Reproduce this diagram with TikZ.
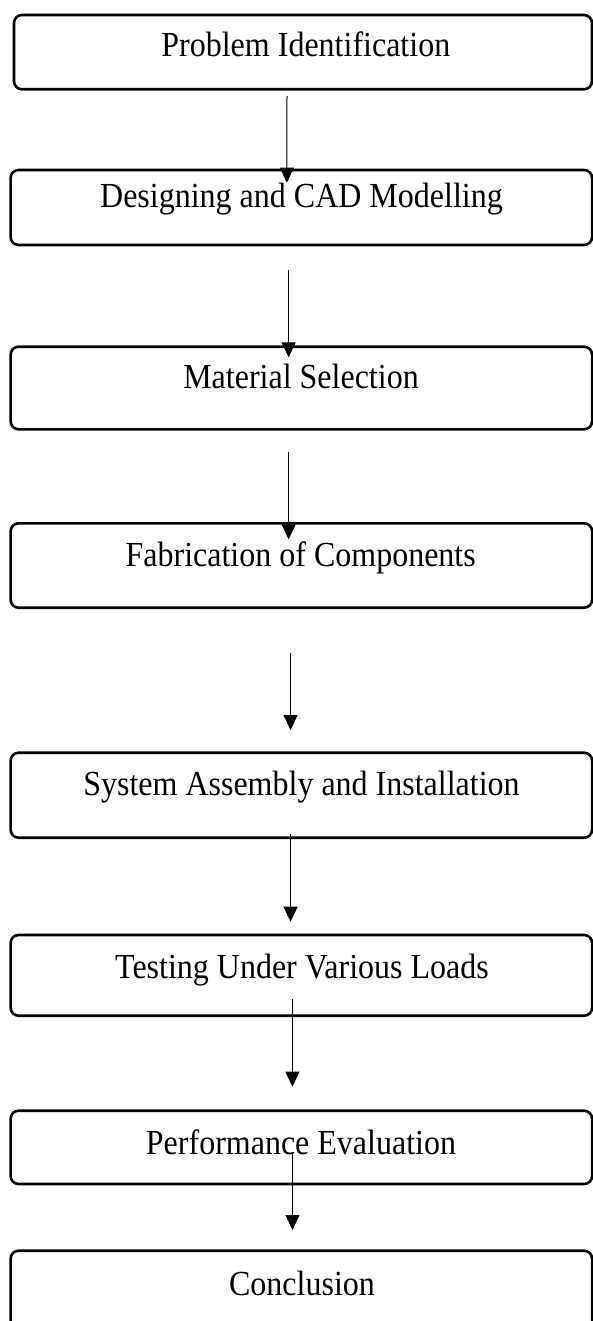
\documentclass[tikz,border=0pt]{standalone}
\usepackage{fontspec}
\setmainfont{Liberation Serif}
\usetikzlibrary{arrows.meta,calc}
\newcommand{\tallword}[1]{\scalebox{1}[1.1]{#1}}
\begin{document}
\begin{tikzpicture}[x=1pt,y=-1pt,
  stepbox/.style={draw=black,line width=2.6pt,rounded corners=8pt,rectangle,inner sep=0pt,outer sep=0pt,anchor=north west},
  lbl/.style={anchor=base,inner sep=0pt,font=\fontsize{32}{38}\selectfont},
  arr/.style={draw=black,line width=1pt,-{Triangle[length=15pt,width=14pt]}}]
\useasboundingbox (0,0) rectangle (592,1321);
\node[stepbox,minimum width=578pt,minimum height=74.3pt] (b1) at (14,15) {};
\node[stepbox,minimum width=581.5pt,minimum height=75pt] (b2) at (10.6,170) {};
\node[stepbox,minimum width=581.5pt,minimum height=82.6pt] (b3) at (10.6,346.7) {};
\node[stepbox,minimum width=581.5pt,minimum height=84.4pt] (b4) at (10.6,523.3) {};
\node[stepbox,minimum width=581.5pt,minimum height=85pt] (b5) at (10.6,752.7) {};
\node[stepbox,minimum width=581.5pt,minimum height=80.7pt] (b6) at (10.6,935) {};
\node[stepbox,minimum width=581.5pt,minimum height=73.3pt] (b7) at (10.6,1110.7) {};
\node[stepbox,minimum width=581.5pt,minimum height=90pt] (b8) at (10.6,1250.7) {};
\node[lbl] (t1) at (305.8,56.7) {\tallword{Problem Identification}};
\node[lbl] (t2) at (301.5,208) {\tallword{Designing and CAD Modelling}};
\node[lbl] (t3) at (301,388.3) {\tallword{Material Selection}};
\node[lbl] (t4) at (300.7,566.7) {\tallword{Fabrication of Components}};
\node[lbl] (t5) at (301.5,795) {\tallword{System Assembly and Installation}};
\node[lbl] (t6) at (302,978.3) {\tallword{Testing Under Various Loads}};
\node[lbl] (t7) at (301,1154) {\tallword{Performance Evaluation}};
\node[lbl] (t8) at (302,1295) {\tallword{Conclusion}};
\draw[arr] ($(b1.south)+(-16,6.7)$) -- ($(b2.north)+(-14.5,12.7)$);
\draw[arr] ($(b2.south)+(-12.7,25)$) -- ($(b3.north)+(-12.7,10.6)$);
\draw[arr] ($(b3.south)+(-12.7,22.4)$) -- ($(b4.north)+(-12.7,16)$);
\draw[arr] ($(b4.south)+(-10.8,45.6)$) -- ($(b5.north)+(-10.8,-22.7)$);
\draw[arr] ($(b5.south)+(-10.8,-3.7)$) -- ($(b6.north)+(-10.8,-13.3)$);
\draw[arr] ($(b6.south)+(-8.9,-16.4)$) -- ($(b7.north)+(-8.9,-24)$);
\draw[arr] ($(b7.south)+(-8.9,-32.3)$) -- ($(b8.north)+(-8.9,-20.7)$);
\end{tikzpicture}
\end{document}
